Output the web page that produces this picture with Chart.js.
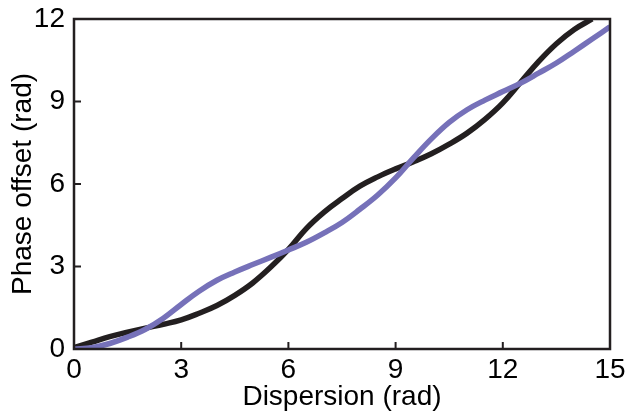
<!DOCTYPE html>
<html>
<head>
<meta charset="utf-8">
<script src="https://cdn.jsdelivr.net/npm/chart.js@4"></script>
<style>
  html, body { margin: 0; padding: 0; background: #fff; }
  #wrap { width: 626px; height: 414px; }
</style>
</head>
<body>
<div id="wrap"><canvas id="grafico"></canvas></div>
<script>
// dispersion values (rad) where the curves were read
const dispersaoAzul = [0, 0.5, 1, 1.5, 2, 2.5, 3, 3.5, 4, 4.5, 5, 5.5, 6, 6.5, 7, 7.5,
  8, 8.5, 9, 9.5, 10, 10.5, 11, 11.5, 12, 12.5, 13, 13.5, 14, 14.5, 15];
const faseAzul = [0, 0.05, 0.2, 0.43, 0.72, 1.12, 1.62, 2.1, 2.5, 2.8, 3.07, 3.33, 3.6, 3.88,
  4.22, 4.6, 5.08, 5.6, 6.22, 6.95, 7.64, 8.24, 8.7, 9.05, 9.36, 9.67, 10.03, 10.4, 10.83, 11.27, 11.72];

const dispersaoPreta = [0, 0.5, 1, 1.5, 2, 2.5, 3, 3.5, 4, 4.5, 5, 5.5, 6, 6.5, 7, 7.5,
  8, 8.5, 9, 9.5, 10, 10.5, 11, 11.5, 12, 12.5, 13, 13.5, 14, 14.5];
const fasePreta = [0.05, 0.25, 0.45, 0.61, 0.76, 0.9, 1.06, 1.3, 1.58, 1.95, 2.4, 2.97, 3.62, 4.38,
  4.98, 5.47, 5.92, 6.26, 6.55, 6.81, 7.1, 7.45, 7.85, 8.35, 8.95, 9.7, 10.45, 11.1, 11.62, 12.0];

const ticksX = [0, 3, 6, 9, 12, 15];
const ticksY = [0, 3, 6, 9, 12];

const corEixo = "#231f20";
const fonte = { family: "'Liberation Sans', Arial, sans-serif", size: 28 };

function pontos(xs, ys) {
  return xs.map((x, i) => ({ x, y: ys[i] }));
}

// frame around the plot plus short inward tick marks
const moldura = {
  id: "moldura",
  afterDraw(chart) {
    const { ctx, chartArea: a, scales } = chart;
    ctx.save();
    ctx.strokeStyle = corEixo;
    ctx.lineWidth = 2.5;
    ctx.strokeRect(a.left, a.top, a.right - a.left, a.bottom - a.top);
    ctx.lineWidth = 2;
    ctx.beginPath();
    ticksX.slice(1, -1).forEach((v) => {
      const px = scales.x.getPixelForValue(v);
      ctx.moveTo(px, a.bottom);
      ctx.lineTo(px, a.bottom - 7);
    });
    ticksY.slice(1, -1).forEach((v) => {
      const py = scales.y.getPixelForValue(v);
      ctx.moveTo(a.left, py);
      ctx.lineTo(a.left + 7, py);
    });
    ctx.stroke();
    ctx.restore();
  },
};

new Chart(document.getElementById("grafico"), {
  type: "line",
  data: {
    datasets: [
      {
        data: pontos(dispersaoAzul, faseAzul),
        borderColor: "rgb(118, 113, 185)",
        borderWidth: 5.5,
        pointRadius: 0,
        tension: 0.4,
      },
      {
        data: pontos(dispersaoPreta, fasePreta),
        borderColor: corEixo,
        borderWidth: 5.5,
        pointRadius: 0,
        tension: 0.4,
      },
    ],
  },
  options: {
    responsive: true,
    maintainAspectRatio: false,
    animation: false,
    layout: { padding: { top: 19, right: 16, left: 0, bottom: 0 } },
    plugins: { legend: { display: false }, tooltip: { enabled: false } },
    scales: {
      x: {
        type: "linear",
        min: 0,
        max: 15,
        afterBuildTicks: (s) => { s.ticks = ticksX.map((v) => ({ value: v })); },
        ticks: { color: "#000", font: fonte, padding: 4, maxRotation: 0 },
        grid: { display: false, drawTicks: false },
        border: { display: false },
        title: { display: true, text: "Dispersion (rad)", color: "#000", font: fonte, padding: { top: 3, bottom: 0 } },
        afterFit: (s) => { s.height = 65; s.paddingLeft = 0; s.paddingRight = 0; },
      },
      y: {
        type: "linear",
        min: 0,
        max: 12,
        afterBuildTicks: (s) => { s.ticks = ticksY.map((v) => ({ value: v })); },
        ticks: { color: "#000", font: fonte, padding: 9 },
        grid: { display: false, drawTicks: false },
        border: { display: false },
        title: { display: true, text: "Phase offset (rad)", color: "#000", font: fonte, padding: { top: 6, bottom: 0 } },
        afterFit: (s) => { s.width = 74; s.paddingTop = 0; s.paddingBottom = 0; },
      },
    },
  },
  plugins: [moldura],
});
</script>
</body>
</html>
